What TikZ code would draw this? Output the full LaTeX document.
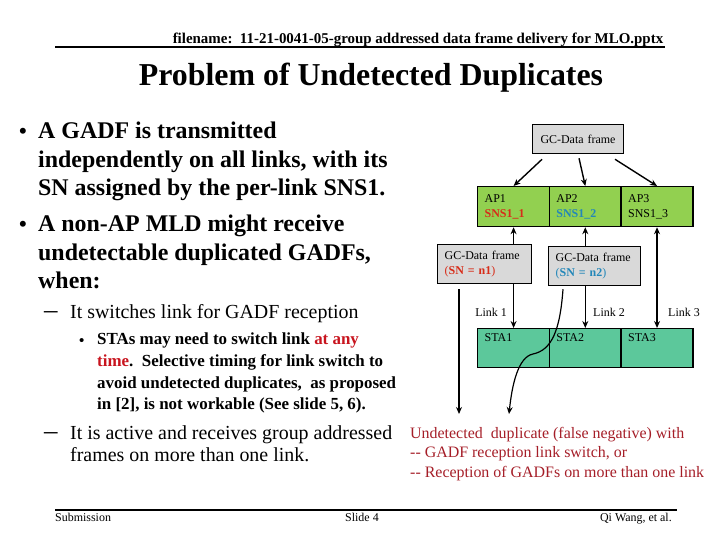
\documentclass[tikz,border=0pt]{standalone}
\usepackage{xcolor}
\usepackage{fontspec}
\setmainfont{Liberation Serif}
\usepackage{tikz}
\usetikzlibrary{arrows.meta, positioning, calc}
\definecolor{apgreen}{RGB}{146,208,80}
\definecolor{stagreen}{RGB}{92,200,155}
\definecolor{gcgray}{RGB}{217,217,217}
\definecolor{snred}{RGB}{215,45,25}
\definecolor{snblue}{RGB}{35,135,185}
\definecolor{notered}{RGB}{165,30,40}
\definecolor{hlred}{RGB}{200,20,30}
\tikzset{
  txt/.style={anchor=north west, inner sep=0pt, align=left},
  mark1/.style={anchor=base west, inner sep=0pt},
  mainpt/.style={txt, font=\fontsize{24}{28.7}\selectfont\bfseries},
  subpt/.style={txt, font=\fontsize{20}{23}\selectfont},
  subsubpt/.style={txt, font=\fontsize{17}{21.7}\selectfont\bfseries},
  diag/.style={font=\fontsize{12}{15}\selectfont},
  box/.style={rectangle, draw, line width=1.4pt, diag, align=left,
    inner xsep=7pt, anchor=north west},
  apbox/.style={box, fill=apgreen, text width=58pt, minimum height=40pt},
  stabox/.style={box, fill=stagreen, text width=58pt, inner ysep=4pt,
    text height=9pt, text depth=22pt},
  gcbox/.style={box, fill=gcgray, text width=80pt, minimum height=39pt},
  arr/.style={-{Stealth[length=7pt,width=6pt]}, line width=1.4pt},
  darr/.style={{Stealth[length=7pt,width=6pt]}-{Stealth[length=7pt,width=6pt]}, line width=1.4pt},
  rule/.style={line width=1.8pt}
}

\begin{document}
\begin{tikzpicture}[x=1bp, y=-1bp]
  \useasboundingbox (0,0) rectangle (720,540);

  % header and title
  \node[anchor=base, font=\fontsize{15}{15}\selectfont\bfseries] (fname) at (418,44)
    {filename:\ \ 11-21-0041-05-group addressed data frame delivery for MLO.pptx};
  \draw[rule] (55,47) -- (665,47);
  \node[anchor=base, font=\fontsize{32}{32}\selectfont\bfseries] (title) at (371,86)
    {Problem of Undetected Duplicates};

  % bullet text
  \node[mark1, font=\fontsize{22}{22}\selectfont\bfseries] (dot1) at (19,139) {•};
  \node[mainpt] (pt1) at (38,122) {A GADF is transmitted\\independently on all links, with its\\SN assigned by the per-link SNS1.};
  \node[mark1, font=\fontsize{22}{22}\selectfont\bfseries] (dot2) at (19,232) {•};
  \node[mainpt] (pt2) at (38,215) {A non-AP MLD might receive\\undetectable duplicated GADFs,\\when:};
  \node[mark1, font=\fontsize{27}{27}\selectfont] (dash1) at (44,318) {--};
  \node[subpt] (pt3) at (70,304) {It switches link for GADF reception};
  \node[mark1, font=\fontsize{15}{15}\selectfont\bfseries] (dot3) at (79,345) {•};
  \node[subsubpt] (pt4) at (97,333) {STAs may need to switch link \textcolor{hlred}{at any}\\\textcolor{hlred}{time}.\ \ Selective timing for link switch to\\avoid undetected duplicates,\ \ as proposed\\in [2], is not workable (See slide 5, 6).};
  \node[mark1, font=\fontsize{27}{27}\selectfont] (dash2) at (44,439) {--};
  \node[subpt] (pt5) at (70,425) {It is active and receives group addressed\\frames on more than one link.};

  % diagram
  \node[box, fill=gcgray, text width=77pt, minimum height=29pt, align=center] (gc) at (532,124) {GC-Data frame};
  \node[apbox] (ap1) at (477,186) {AP1\\\textcolor{snred}{\bfseries SNS1\_1}};
  \node[apbox, right=-1.4pt of ap1] (ap2) {AP2\\\textcolor{snblue}{\bfseries SNS1\_2}};
  \node[apbox, right=-1.4pt of ap2] (ap3) {AP3\\SNS1\_3};
  \node[stabox] (sta1) at (477,328) {STA1};
  \node[stabox, right=-1.4pt of sta1] (sta2) {STA2};
  \node[stabox, right=-1.4pt of sta2] (sta3) {STA3};

  \draw[arr] ($(gc.south)+(-36,5)$) -- (ap1.north);
  \draw[arr] ($(gc.south)+(1,4)$) -- (ap2.north);
  \draw[arr] ($(gc.south)+(37,5)$) -- (ap3.north);
  \draw[darr] (ap1.south) -- (sta1.north);
  \draw[darr] (ap2.south) -- (sta2.north);
  \draw[darr] (ap3.south) -- (sta3.north);

  \node[gcbox] (gcn1) at (437,244) {GC-Data frame\\\textcolor{snred}{(\textbf{SN = n1})}};
  \node[gcbox, text width=78pt] (gcn2) at (548,246) {GC-Data frame\\\textcolor{snblue}{(\textbf{SN = n2})}};

  \node[diag, anchor=base east, inner sep=0pt] (lk1) at (507,316) {Link 1};
  \node[diag, anchor=base west, inner sep=0pt] (lk2) at (593,316) {Link 2};
  \node[diag, anchor=base west, inner sep=0pt] (lk3) at (668,316) {Link 3};

  \coordinate (e1) at (459,414);
  \coordinate (e2) at (509,414);
  \draw[arr, line width=1.2pt] ($(gcn1.south west)+(22,5)$) -- (e1);
  \draw[arr, line width=1.2pt] ($(gcn2.south west)+(15,3)$)
    .. controls (560,330) and (552,350) .. (533,354)
    .. controls (518,357) and (512,385) .. (e2);

  \node[txt, text=notered, font=\fontsize{16}{19.5}\selectfont] (note) at (410,427)
    {Undetected\ \ duplicate (false negative) with\\-{}- GADF reception link switch, or\\-{}- Reception of GADFs on more than one link};

  % footer
  \draw[rule] (55,510) -- (677,510);
  \node[anchor=base west, inner sep=0pt, font=\fontsize{12}{12}\selectfont] (sub) at (55,521) {Submission};
  \node[anchor=base west, inner sep=0pt, font=\fontsize{12}{12}\selectfont] (slide) at (345,521) {Slide 4};
  \node[anchor=base east, inner sep=0pt, font=\fontsize{12}{12}\selectfont] (auth) at (672,521) {Qi Wang, et al.};
\end{tikzpicture}
\end{document}
